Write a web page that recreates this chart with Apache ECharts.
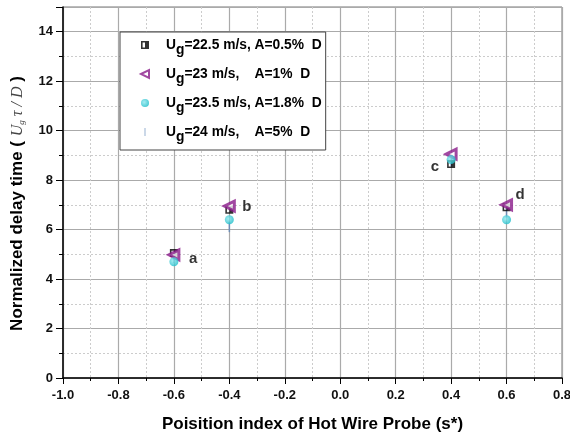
<!DOCTYPE html>
<html><head><meta charset="utf-8">
<script src="https://cdn.jsdelivr.net/npm/echarts@6/dist/echarts.min.js"></script>
<style>html,body{margin:0;padding:0;background:#fff}#c{width:570px;height:435px}</style>
</head><body><div id="c"></div>
<script>
const positions = [-0.6, -0.4, 0.4, 0.6];
const pointNames = ['a', 'b', 'c', 'd'];
const s1Values = [5.05, 6.8, 8.65, 6.9];   // Ug=22.5, A=0.5%D
const s2Values = [4.98, 6.95, 9.05, 7.0];  // Ug=23, A=1%D
const s3Values = [4.7, 6.4, 8.83, 6.4];    // Ug=23.5, A=1.8%D
const s4Values = [4.85, 6.1, 8.75, 6.7];   // Ug=24, A=5%D
const legendNames = ['s1', 's2', 's3', 's4'];
const legendTexts = [
  '22.5 m/s, A=0.5%  D',
  '23 m/s,    A=1%  D',
  '23.5 m/s, A=1.8%  D',
  '24 m/s,    A=5%  D'
];

function pts(vals){ return positions.map((x,i)=>[x, vals[i]]); }
const labelOffsets = [[6,6],[4,-3],[-3,3],[0,-12]];
const labelPos = ['right','right','left','right'];

const SQ = 'path://M0,0 L10,0 L10,10 L0,10 Z M2,2 L2,8 L5,8 L5,2 Z';
const TRI = 'path://M0,5 L10,0 L10,10 Z';
const BAR = 'path://M0,0 L1,0 L1,10 L0,10 Z';

const chart = echarts.init(document.getElementById('c'), null, {renderer:'canvas'});
const F = 'Liberation Sans, Arial, sans-serif';
chart.setOption({
  animation:false,
  grid:{left:63, right:8, top:7, bottom:57, outerBoundsMode:'none', containLabel:false,
    show:true, borderColor:'#777', borderWidth:1},
  legend:{
    left:120, top:32, width:190, orient:'vertical',
    data:[
      {name:'s1', icon:SQ, itemStyle:{color:'#000'}},
      {name:'s2', icon:TRI, itemStyle:{color:'#fff', borderColor:'#8a1a8a', borderWidth:2}},
      {name:'s3', icon:'circle'},
      {name:'s4', icon:BAR}
    ],
    itemGap:10, itemWidth:8, itemHeight:8,
    backgroundColor:'#fff', borderColor:'#444', borderWidth:1,
    padding:[6,4,6,20],
    formatter:function(n){
      const i = legendNames.indexOf(n);
      return '{t|U}{s|g}{t|=' + legendTexts[i] + '}';
    },
    textStyle:{
      padding:[0,0,0,12],
      rich:{
        t:{fontFamily:F, fontWeight:'bold', fontSize:13.8, color:'#000'},
        s:{fontFamily:F, fontWeight:'bold', fontSize:13.8, color:'#000', padding:[10,0,0,0]}
      }
    }
  },
  xAxis:{
    type:'value', min:-1, max:0.8, interval:0.2,
    name:'Poisition index of Hot Wire Probe (s*)', nameLocation:'middle', nameGap:38,
    nameTextStyle:{fontFamily:F, fontWeight:'bold', fontSize:17, color:'#000'},
    axisLine:{onZero:false, lineStyle:{color:'#000', width:1.5}},
    axisTick:{show:true, inside:false, length:6, lineStyle:{color:'#000'}},
    minorTick:{show:true, splitNumber:2, length:3, lineStyle:{color:'#000'}},
    axisLabel:{fontFamily:F, fontWeight:'bold', fontSize:13, color:'#111', margin:11,
      formatter:v=>v.toFixed(1)},
    splitLine:{show:true, lineStyle:{color:'#aaa', width:1.2}},
    minorSplitLine:{show:true, lineStyle:{color:'#ccc', type:[2,2], width:1}}
  },
  yAxis:{
    type:'value', min:0, max:15, interval:2,
    name:'{b|Normalized delay time ( }{m|U}{ms|g}{m| τ / D}{b| )}',
    nameLocation:'middle', nameGap:37, nameRotate:90,
    nameTextStyle:{padding:[0,22,0,0], rich:{
      b:{fontFamily:F, fontWeight:'bold', fontSize:17, color:'#000'},
      m:{fontFamily:'Liberation Serif, serif', fontStyle:'italic', fontSize:16, color:'#444'},
      ms:{fontFamily:'Liberation Serif, serif', fontStyle:'italic', fontSize:9, color:'#444', padding:[8,0,0,0]}
    }},
    axisLine:{onZero:false, lineStyle:{color:'#000', width:1.5}},
    axisTick:{show:true, inside:false, length:7, lineStyle:{color:'#000'}},
    minorTick:{show:true, splitNumber:2, length:4, lineStyle:{color:'#000'}},
    axisLabel:{fontFamily:F, fontWeight:'bold', fontSize:13, color:'#111', margin:10, showMaxLabel:false,
      formatter:v=>(v>14?'':String(v))},
    splitLine:{show:true, lineStyle:{color:'#aaa', width:1.2}},
    minorSplitLine:{show:true, lineStyle:{color:'#ccc', type:[2,2], width:1}}
  },
  series:[
    {name:'s4', type:'scatter', z:1,
     symbol:BAR, symbolSize:[1.5,10],
     itemStyle:{color:'#5f86b8'}, data:pts(s4Values)},
    {name:'s1', type:'scatter', z:3,
     symbol:SQ, symbolSize:8,
     itemStyle:{color:'#000'},
     data:positions.map((x,i)=>({value:[x,s1Values[i]],
       label:{show:true, formatter:pointNames[i], position:labelPos[i], offset:labelOffsets[i],
         fontFamily:F, fontWeight:'bold', fontSize:15, color:'#000'}}))},
    {name:'s2', type:'scatter', z:4,
     symbol:TRI, symbolSize:[10,10],
     itemStyle:{color:'#fff', borderColor:'#8a1a8a', borderWidth:3},
     data:pts(s2Values)},
    {name:'s3', type:'scatter', z:5,
     symbol:'circle', symbolSize:9,
     itemStyle:{color:new echarts.graphic.RadialGradient(0.4,0.4,0.6,[{offset:0,color:'#8ee8ee'},{offset:1,color:'#22bfcb'}])},
     data:pts(s3Values)}
  ]
});
</script></body></html>
